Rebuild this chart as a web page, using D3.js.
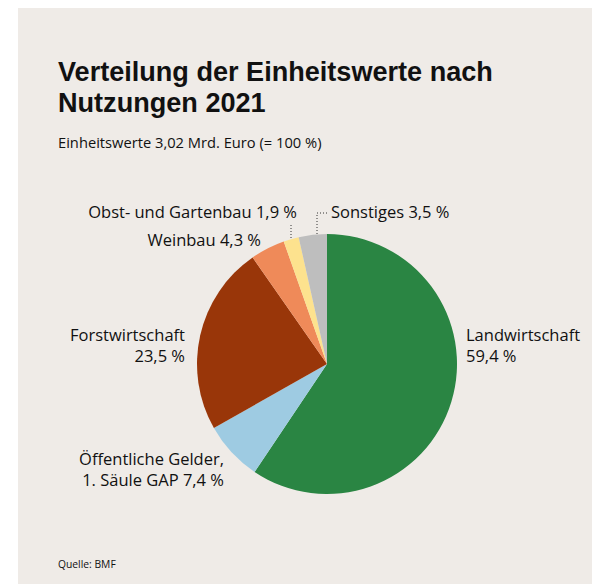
<!DOCTYPE html>
<html><head><meta charset="utf-8">
<script src="https://cdn.jsdelivr.net/npm/d3@7/dist/d3.min.js"></script>
<style>body{margin:0;background:#fff;} svg{display:block;}</style>
</head><body>
<script>
const categories = ["Landwirtschaft","Öffentliche Gelder, 1. Säule GAP","Forstwirtschaft","Weinbau","Obst- und Gartenbau","Sonstiges"];
const values = [59.4, 7.4, 23.5, 4.3, 1.9, 3.5];
const colors = ["#2a8543","#9ecbe2","#993609","#ef8a59","#fde28e","#bebebe"];
const titleLines = ["Verteilung der Einheitswerte nach","Nutzungen 2021"];
const labelLines = [
  ["Landwirtschaft","59,4 %"],
  ["Öffentliche Gelder,","1. Säule GAP 7,4 %"],
  ["Forstwirtschaft","23,5 %"],
  ["Weinbau 4,3 %"],
  ["Obst- und Gartenbau 1,9 %"],
  ["Sonstiges 3,5 %"]
];

const W=592,H=585;
const svg=d3.select("body").append("svg").attr("width",W).attr("height",H);
svg.append("rect").attr("x",18).attr("y",8).attr("width",W-18).attr("height",576).attr("fill","#efebe7");

const font="'Open Sans', sans-serif";
const titleFont="'Liberation Sans', Arial, sans-serif";
const title=svg.append("text").attr("font-family",titleFont).attr("font-weight",700).attr("font-size",24).attr("fill","#111");
titleLines.forEach((l,j)=>title.append("tspan").attr("x",58).attr("y",81+j*31).text(l));
const w0=title.select("tspan").node().getComputedTextLength();
title.attr("font-size",Math.min(27.2,24*435/w0));
svg.append("text").attr("x",58).attr("y",148).attr("font-family",font).attr("font-size",14.7).attr("fill","#111").text("Einheitswerte 3,02 Mrd. Euro (= 100 %)");
svg.append("text").attr("x",58).attr("y",568).attr("font-family",font).attr("font-size",10.3).attr("fill","#111").text("Quelle: BMF");

const cx=327,cy=364,r=130;
const pie=d3.pie().sort(null).value(d=>d)(values);
const arc=d3.arc().innerRadius(0).outerRadius(r);
const g=svg.append("g").attr("transform",`translate(${cx},${cy})`);
g.selectAll("path").data(pie).join("path").attr("d",arc).attr("fill",(d,i)=>colors[i]);

const lab=[
  {x:466,y:341,anchor:"start"},
  {x:224,y:465,anchor:"end"},
  {x:185,y:341,anchor:"end"},
  {x:261,y:246,anchor:"end"},
  {x:297,y:218,anchor:"end"},
  {x:331,y:218,anchor:"start"}
];
labelLines.forEach((lines,i)=>{
  const t=svg.append("text").attr("font-family",font).attr("font-size",16.5).attr("fill","#111").attr("text-anchor",lab[i].anchor);
  lines.forEach((l,j)=>t.append("tspan").attr("x",lab[i].x).attr("y",lab[i].y+j*21).text(l));
});
const lineStyle=sel=>sel.attr("stroke","#333").attr("stroke-width",1).attr("stroke-dasharray","1,2").attr("fill","none");
svg.append("path").attr("d","M291,225V239").call(lineStyle);
svg.append("path").attr("d","M327,213H317V234").call(lineStyle);
</script>
</body></html>
